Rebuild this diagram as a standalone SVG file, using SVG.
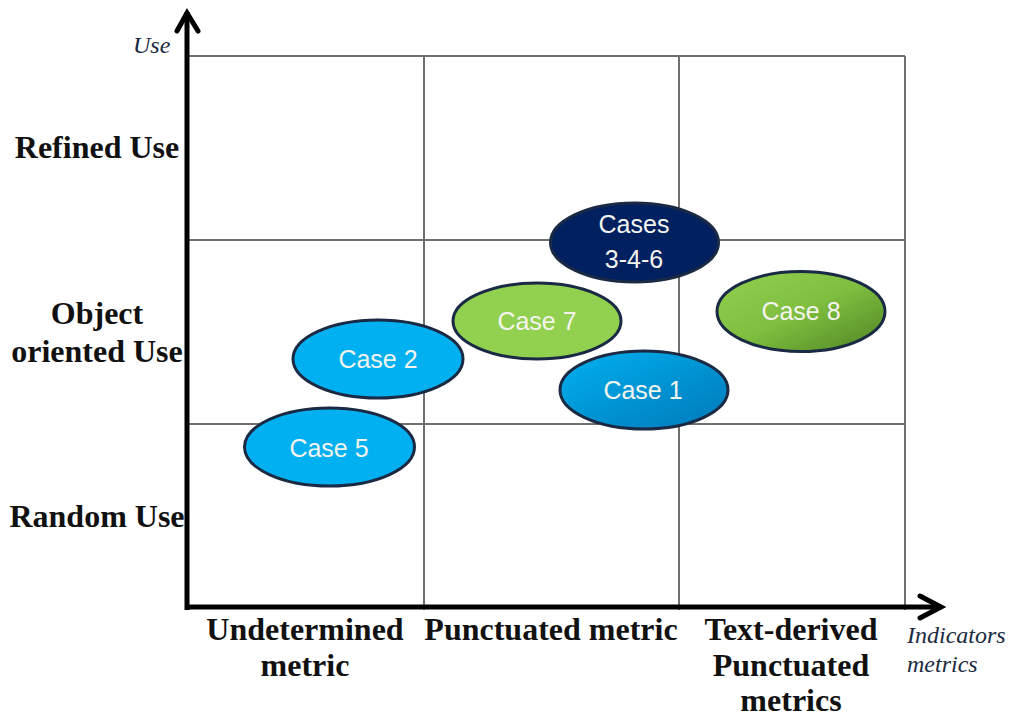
<svg xmlns="http://www.w3.org/2000/svg" width="1016" height="718" viewBox="0 0 1016 718">
<style>
.grid{stroke:#707070;stroke-width:2;fill:none}
.axis{stroke:#000;stroke-width:5;fill:none;stroke-linecap:butt}
.head{stroke:#000;stroke-width:5;fill:none;stroke-linejoin:miter;stroke-linecap:round}
.lab{font-family:"Liberation Serif","Times New Roman",serif;font-weight:bold;font-size:32px;fill:#111;text-anchor:middle}
.it{font-family:"Liberation Serif","Times New Roman",serif;font-style:italic;font-size:24px;fill:#1a2a40}
.ell{stroke:#1b2a44;stroke-width:3}
.ct{font-family:"Liberation Sans",Arial,sans-serif;font-size:25px;fill:#f4f4ee;text-anchor:middle}
</style>
<defs>
<linearGradient id="gBlue" x1="0" y1="0" x2="1" y2="1">
<stop offset="0" stop-color="#00B0F0"/><stop offset="1" stop-color="#0079B8"/>
</linearGradient>
<linearGradient id="gGreen" x1="0" y1="0" x2="1" y2="1">
<stop offset="0" stop-color="#92D050"/><stop offset="0.5" stop-color="#7FBE3F"/><stop offset="1" stop-color="#4E8524"/>
</linearGradient>
</defs>
<g id="grid">
<line class="grid" x1="187" y1="56" x2="905" y2="56"/>
<line class="grid" x1="187" y1="240" x2="905" y2="240"/>
<line class="grid" x1="187" y1="424" x2="905" y2="424"/>
<line class="grid" x1="424" y1="56" x2="424" y2="610"/>
<line class="grid" x1="679" y1="56" x2="679" y2="610"/>
<line class="grid" x1="905" y1="56" x2="905" y2="610"/>
</g>
<g id="axes">
<line class="axis" x1="187" y1="610" x2="187" y2="12"/>
<polyline class="head" points="177,31 187,13 198,31"/>
<line class="axis" x1="185" y1="607" x2="940" y2="607"/>
<polyline class="head" points="920,596 941,607 920,618"/>
</g>
<g id="axis-labels">
<text class="it" x="133" y="53" font-size="22">Use</text>
<text class="it" x="907" y="643">Indicators</text>
<text class="it" x="907" y="672">metrics</text>
<text class="lab" x="97" y="158">Refined Use</text>
<text class="lab" x="97" y="324">Object</text>
<text class="lab" x="97" y="362">oriented Use</text>
<text class="lab" x="97" y="527">Random Use</text>
<text class="lab" x="305" y="640">Undetermined</text>
<text class="lab" x="305" y="676">metric</text>
<text class="lab" x="551" y="640">Punctuated metric</text>
<text class="lab" x="791" y="640">Text-derived</text>
<text class="lab" x="791" y="676">Punctuated</text>
<text class="lab" x="791" y="711">metrics</text>
</g>
<g id="case346">
<ellipse class="ell" cx="634.5" cy="242.5" rx="84" ry="39.5" fill="#002060"/>
<text class="ct" x="634" y="233">Cases</text>
<text class="ct" x="634" y="268">3-4-6</text>
</g>
<g id="case8">
<ellipse class="ell" cx="801" cy="311.5" rx="84" ry="40" fill="url(#gGreen)"/>
<text class="ct" x="801" y="320">Case 8</text>
</g>
<g id="case7">
<ellipse class="ell" cx="537" cy="321" rx="84" ry="38" fill="#92D050"/>
<text class="ct" x="537" y="330">Case 7</text>
</g>
<g id="case2">
<ellipse class="ell" cx="378" cy="359" rx="85" ry="39" fill="#00B0F0"/>
<text class="ct" x="378" y="368">Case 2</text>
</g>
<g id="case1">
<ellipse class="ell" cx="644" cy="390" rx="84" ry="39" fill="url(#gBlue)"/>
<text class="ct" x="643" y="399">Case 1</text>
</g>
<g id="case5">
<ellipse class="ell" cx="329.5" cy="447" rx="85" ry="39" fill="#00B0F0"/>
<text class="ct" x="329" y="457">Case 5</text>
</g>
</svg>
